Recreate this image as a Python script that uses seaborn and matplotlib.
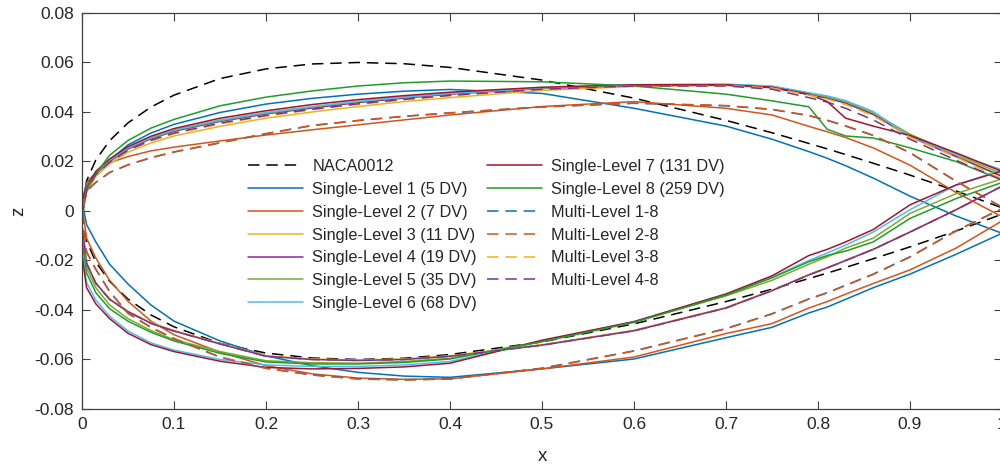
import numpy as np
import pandas as pd
import matplotlib
matplotlib.use("Agg")
import matplotlib.pyplot as plt
import seaborn as sns

# ---------------- data ----------------
X = [0, 0.005, 0.015, 0.03, 0.05, 0.075, 0.1, 0.15, 0.2, 0.25, 0.3, 0.35, 0.4,
     0.5, 0.6, 0.7, 0.75, 0.79, 0.81, 0.83, 0.86, 0.9, 0.95, 1.0]

naca_up = [0, 0.0122, 0.0206, 0.0284, 0.0356, 0.0420, 0.0468, 0.0535, 0.0574, 0.0594, 0.0600, 0.0595, 0.0580,
           0.0529, 0.0456, 0.0366, 0.0316, 0.0273, 0.0251, 0.0228, 0.0193, 0.0145, 0.0081, 0.0013]
naca_lo = [0, -0.0122, -0.0206, -0.0284, -0.0356, -0.0420, -0.0468, -0.0535, -0.0574, -0.0594, -0.0600, -0.0595, -0.0580,
           -0.0529, -0.0456, -0.0366, -0.0316, -0.0273, -0.0251, -0.0228, -0.0193, -0.0145, -0.0081, -0.0013]

sl1_up = [0.004, 0.0115, 0.0155, 0.0205, 0.0267, 0.0315, 0.0350, 0.0398, 0.0432, 0.0455, 0.0472, 0.0484, 0.0491,
          0.0475, 0.0415, 0.0343, 0.0290, 0.0240, 0.0213, 0.0183, 0.0133, 0.0060, -0.0020, -0.0090]
sl1_lo = [0.004, -0.0055, -0.0125, -0.0215, -0.0295, -0.0380, -0.0445, -0.0525, -0.0585, -0.0625, -0.0652, -0.0667, -0.0672,
          -0.0638, -0.0598, -0.0512, -0.0470, -0.0412, -0.0388, -0.0357, -0.0310, -0.0255, -0.0175, -0.0090]

sl2_up = [0.002, 0.0110, 0.0155, 0.0195, 0.0220, 0.0243, 0.0258, 0.0283, 0.0307, 0.0328, 0.0348, 0.0368, 0.0388,
          0.0422, 0.0442, 0.0415, 0.0388, 0.0342, 0.0320, 0.0297, 0.0255, 0.0185, 0.0075, -0.0023]
sl2_lo = [0.002, -0.0110, -0.0190, -0.0280, -0.0365, -0.0445, -0.0500, -0.0570, -0.0625, -0.0658, -0.0675, -0.0680, -0.0678,
          -0.0638, -0.0590, -0.0495, -0.0455, -0.0392, -0.0366, -0.0336, -0.0293, -0.0238, -0.0150, -0.0040]

sl3_up = [-0.003, 0.0075, 0.0140, 0.0190, 0.0238, 0.0275, 0.0303, 0.0342, 0.0375, 0.0400, 0.0422, 0.0442, 0.0458,
          0.0487, 0.0503, 0.0508, 0.0500, 0.0472, 0.0458, 0.0438, 0.0392, 0.0305, 0.0225, 0.0140]
sl3_lo = [-0.006, -0.0210, -0.0290, -0.0355, -0.0405, -0.0452, -0.0483, -0.0535, -0.0585, -0.0598, -0.0602, -0.0598, -0.0585,
          -0.0540, -0.0482, -0.0390, -0.0320, -0.0258, -0.0230, -0.0200, -0.0155, -0.0085, 0.0005, 0.0100]

sl4_up = [-0.002, 0.0085, 0.0150, 0.0200, 0.0250, 0.0292, 0.0322, 0.0362, 0.0392, 0.0416, 0.0438, 0.0456, 0.0472,
          0.0495, 0.0507, 0.0508, 0.0498, 0.0470, 0.0456, 0.0436, 0.0390, 0.0300, 0.0220, 0.0140]
sl4_lo = [-0.006, -0.0212, -0.0292, -0.0357, -0.0407, -0.0454, -0.0485, -0.0537, -0.0587, -0.0600, -0.0604, -0.0600, -0.0587,
          -0.0542, -0.0484, -0.0392, -0.0322, -0.0258, -0.0230, -0.0200, -0.0155, -0.0085, 0.0005, 0.0100]

sl5_up = [0.000, 0.0090, 0.0155, 0.0205, 0.0255, 0.0295, 0.0325, 0.0365, 0.0395, 0.0420, 0.0442, 0.0460, 0.0475,
          0.0497, 0.0510, 0.0512, 0.0503, 0.0476, 0.0462, 0.0442, 0.0397, 0.0310, 0.0230, 0.0150]
sl5_lo = [-0.010, -0.0230, -0.0310, -0.0380, -0.0435, -0.0483, -0.0520, -0.0568, -0.0605, -0.0613, -0.0615, -0.0608, -0.0595,
          -0.0527, -0.0448, -0.0343, -0.0280, -0.0215, -0.0185, -0.0150, -0.0110, -0.0010, 0.0070, 0.0130]

sl6_up = [0.000, 0.0090, 0.0155, 0.0205, 0.0255, 0.0297, 0.0328, 0.0368, 0.0398, 0.0422, 0.0443, 0.0460, 0.0475,
          0.0497, 0.0510, 0.0512, 0.0505, 0.0478, 0.0465, 0.0446, 0.0402, 0.0300, 0.0230, 0.0166]
sl6_lo = [-0.016, -0.0290, -0.0360, -0.0425, -0.0485, -0.0533, -0.0562, -0.0600, -0.0622, -0.0628, -0.0628, -0.0622, -0.0608,
          -0.0527, -0.0447, -0.0337, -0.0268, -0.0200, -0.0170, -0.0138, -0.0085, 0.0005, 0.0105, 0.0166]

sl7_up = [0.004, 0.0095, 0.0160, 0.0210, 0.0260, 0.0302, 0.0333, 0.0375, 0.0405, 0.0430, 0.0450, 0.0466, 0.0480,
          0.0500, 0.0510, 0.0510, 0.0500, 0.0472, 0.0442, 0.0375, 0.0343, 0.0305, 0.0235, 0.0160]
sl7_lo = [-0.018, -0.0310, -0.0375, -0.0435, -0.0494, -0.0540, -0.0568, -0.0607, -0.0632, -0.0638, -0.0636, -0.0630, -0.0615,
          -0.0522, -0.0447, -0.0335, -0.0262, -0.0180, -0.0155, -0.0125, -0.0075, 0.0025, 0.0105, 0.0162]

sl8_up = [0.000, 0.0090, 0.0150, 0.0225, 0.0285, 0.0335, 0.0370, 0.0425, 0.0460, 0.0485, 0.0505, 0.0518, 0.0525,
          0.0522, 0.0505, 0.0472, 0.0445, 0.0421, 0.0330, 0.0303, 0.0295, 0.0255, 0.0200, 0.0125]
sl8_lo = [-0.012, -0.0250, -0.0330, -0.0395, -0.0445, -0.0490, -0.0525, -0.0575, -0.0610, -0.0618, -0.0618, -0.0612, -0.0598,
          -0.0528, -0.0450, -0.0340, -0.0270, -0.0205, -0.0180, -0.0162, -0.0125, -0.0030, 0.0050, 0.0115]

ml1_up = [0.000, 0.0080, 0.0115, 0.0155, 0.0186, 0.0215, 0.0238, 0.0275, 0.0312, 0.0345, 0.0365, 0.0382, 0.0396,
          0.0420, 0.0435, 0.0425, 0.0410, 0.0385, 0.0366, 0.0343, 0.0305, 0.0235, 0.0120, 0.0015]
ml1_lo = [0.000, -0.0165, -0.0235, -0.0325, -0.0413, -0.0470, -0.0515, -0.0590, -0.0635, -0.0662, -0.0678, -0.0682, -0.0678,
          -0.0635, -0.0565, -0.0475, -0.0415, -0.0355, -0.0330, -0.0300, -0.0255, -0.0185, -0.0080, 0.0010]

ml2_up = [0.000, 0.0081, 0.0116, 0.0156, 0.0187, 0.0216, 0.0239, 0.0276, 0.0313, 0.0346, 0.0366, 0.0383, 0.0397,
          0.0421, 0.0436, 0.0426, 0.0411, 0.0386, 0.0367, 0.0344, 0.0306, 0.0236, 0.0121, 0.0016]
ml2_lo = [0.000, -0.0166, -0.0236, -0.0326, -0.0414, -0.0471, -0.0516, -0.0591, -0.0636, -0.0663, -0.0679, -0.0683, -0.0679,
          -0.0636, -0.0566, -0.0476, -0.0416, -0.0356, -0.0331, -0.0301, -0.0256, -0.0186, -0.0081, 0.0009]

ml3_up = [-0.002, 0.0080, 0.0145, 0.0195, 0.0244, 0.0283, 0.0312, 0.0352, 0.0384, 0.0409, 0.0431, 0.0450, 0.0466,
          0.0492, 0.0505, 0.0507, 0.0497, 0.0468, 0.0452, 0.0430, 0.0385, 0.0298, 0.0218, 0.0130]
ml3_lo = [-0.006, -0.0211, -0.0291, -0.0356, -0.0406, -0.0453, -0.0484, -0.0536, -0.0586, -0.0599, -0.0603, -0.0599, -0.0586,
          -0.0541, -0.0483, -0.0391, -0.0321, -0.0258, -0.0230, -0.0200, -0.0155, -0.0085, 0.0005, 0.0100]

ml4_up = [-0.002, 0.0082, 0.0147, 0.0197, 0.0246, 0.0286, 0.0315, 0.0355, 0.0386, 0.0411, 0.0433, 0.0451, 0.0467,
          0.0492, 0.0505, 0.0505, 0.0492, 0.0458, 0.0440, 0.0415, 0.0368, 0.0290, 0.0205, 0.0125]
ml4_lo = [-0.006, -0.0212, -0.0292, -0.0357, -0.0407, -0.0454, -0.0485, -0.0537, -0.0587, -0.0600, -0.0604, -0.0600, -0.0587,
          -0.0542, -0.0484, -0.0392, -0.0322, -0.0258, -0.0230, -0.0200, -0.0155, -0.0085, 0.0005, 0.0100]

labels = ["NACA0012",
          "Single-Level 1 (5 DV)", "Single-Level 2 (7 DV)", "Single-Level 3 (11 DV)",
          "Single-Level 4 (19 DV)", "Single-Level 5 (35 DV)", "Single-Level 6 (68 DV)",
          "Single-Level 7 (131 DV)", "Single-Level 8 (259 DV)",
          "Multi-Level 1-8", "Multi-Level 2-8", "Multi-Level 3-8", "Multi-Level 4-8"]
uppers = [naca_up, sl1_up, sl2_up, sl3_up, sl4_up, sl5_up, sl6_up, sl7_up, sl8_up,
          ml1_up, ml2_up, ml3_up, ml4_up]
lowers = [naca_lo, sl1_lo, sl2_lo, sl3_lo, sl4_lo, sl5_lo, sl6_lo, sl7_lo, sl8_lo,
          ml1_lo, ml2_lo, ml3_lo, ml4_lo]
colors = ["#000000", "#0072BD", "#D95319", "#EDB120", "#7E2F8E", "#77AC30", "#4DBEEE",
          "#A2142F", "#1E9E28", "#0072BD", "#D95319", "#EDB120", "#7E2F8E"]
dashed = [True] + [False] * 8 + [True] * 4

xtick_vals = [0, 0.1, 0.2, 0.3, 0.4, 0.5, 0.6, 0.7, 0.8, 0.9, 1.0]
xtick_labels = ["0", "0.1", "0.2", "0.3", "0.4", "0.5", "0.6", "0.7", "0.8", "0.9", "1"]
ytick_vals = [-0.08, -0.06, -0.04, -0.02, 0, 0.02, 0.04, 0.06, 0.08]
ytick_labels = ["-0.08", "-0.06", "-0.04", "-0.02", "0", "0.02", "0.04", "0.06", "0.08"]

# ---------------- plotting ----------------
sns.set_style("ticks")
plt.rcParams["font.family"] = ["Liberation Sans", "DejaVu Sans"]

fig = plt.figure(figsize=(10, 4.67), dpi=100)
ax = fig.add_axes([0.082, 0.1242, 0.92, 0.848])

handles = []
for lab, up, lo, col, ds in zip(labels, uppers, lowers, colors, dashed):
    xs = list(X[::-1]) + list(X)
    zs = list(up[::-1]) + list(lo)
    df = pd.DataFrame({"x": xs, "z": zs})
    ls = (0, (7.5, 4.5)) if ds else "-"
    sns.lineplot(data=df, x="x", y="z", sort=False, estimator=None, ax=ax,
                 color=col, linewidth=1.1, linestyle=ls, label=lab, legend=False)
    handles.append(ax.get_lines()[-1])

ax.set_xlim(0, 1)
ax.set_ylim(-0.08, 0.08)
ax.set_xticks(xtick_vals)
ax.set_xticklabels(xtick_labels)
ax.set_yticks(ytick_vals)
ax.set_yticklabels(ytick_labels)
ax.tick_params(direction="in", length=5.5, width=0.8, colors="#404040",
               labelsize=12.5, labelcolor="#262626", top=True, right=True, pad=6)
for s in ax.spines.values():
    s.set_color("#404040")
    s.set_linewidth(0.9)
ax.set_xlabel("x", fontsize=13.5, color="#262626", labelpad=11)
ax.set_ylabel("z", fontsize=13.5, color="#262626", labelpad=5)

ax.legend(handles=handles, labels=labels, ncol=2, frameon=False,
          loc="upper left", bbox_to_anchor=(0.240, 1 - 151 / 467),
          bbox_transform=fig.transFigure, fontsize=11.7, handlelength=3.4,
          handletextpad=0.55, labelspacing=0.48, columnspacing=0.6, borderpad=0)

fig.savefig("out.png", dpi=100)
